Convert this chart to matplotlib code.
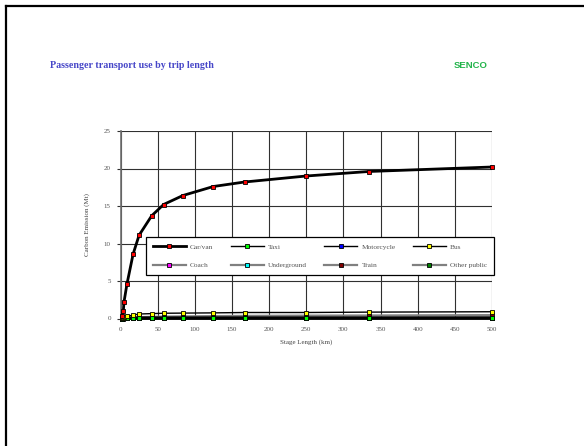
import matplotlib
matplotlib.use("Agg")
import matplotlib.pyplot as plt
from matplotlib.lines import Line2D

# ---- data ----
stage_km = [1.5, 3.8, 4.7, 8.7, 17, 25, 42, 58, 84, 125, 167, 250, 334, 500]
car_van = [0.3, 1.0, 2.2, 4.6, 8.6, 11.1, 13.7, 15.2, 16.4, 17.6, 18.2, 19.0, 19.6, 20.2]
taxi = [0.0, 0.01, 0.02, 0.03, 0.04, 0.05, 0.05, 0.05, 0.05, 0.05, 0.05, 0.05, 0.05, 0.05]
motorcycle = [0.0, 0.01, 0.01, 0.02, 0.03, 0.03, 0.04, 0.04, 0.04, 0.04, 0.04, 0.04, 0.04, 0.04]
bus = [0.05, 0.12, 0.2, 0.3, 0.45, 0.6, 0.65, 0.7, 0.72, 0.75, 0.8, 0.8, 0.85, 0.9]
coach = [0.0, 0.0, 0.01, 0.01, 0.02, 0.03, 0.04, 0.05, 0.06, 0.07, 0.08, 0.09, 0.1, 0.12]
underground = [0.0, 0.01, 0.02, 0.03, 0.04, 0.05, 0.05, 0.05, 0.05, 0.05, 0.05, 0.05, 0.05, 0.05]
train = [0.0, 0.02, 0.04, 0.08, 0.12, 0.18, 0.22, 0.25, 0.28, 0.32, 0.35, 0.38, 0.4, 0.45]
other_public = [0.0, 0.01, 0.02, 0.03, 0.04, 0.05, 0.06, 0.06, 0.07, 0.07, 0.08, 0.08, 0.08, 0.09]

series_names = ["Car/van", "Taxi", "Motorcycle", "Bus", "Coach", "Underground", "Train", "Other public"]
series_values = [car_van, taxi, motorcycle, bus, coach, underground, train, other_public]
marker_colors = ["#ff0000", "#00ff00", "#0000ff", "#ffff00", "#ff00ff", "#00ffff", "#800000", "#008000"]
line_colors = ["#000000", "#000000", "#000000", "#000000", "#808080", "#808080", "#808080", "#808080"]
line_widths = [2.0, 1.0, 1.0, 1.0, 1.6, 1.6, 1.6, 1.6]
plot_widths = [2.0, 2.2, 2.2, 1.0, 1.6, 1.6, 1.6, 1.6]

x_ticks = [0, 50, 100, 150, 200, 250, 300, 350, 400, 450, 500]
y_ticks = [0, 5, 10, 15, 20, 25]

W, H = 584, 446
fig = plt.figure(figsize=(W / 100, H / 100), dpi=100)
fig.patch.set_facecolor("white")

# slide frame (left and top border)
fig.add_artist(Line2D([5.5 / W, 5.5 / W], [0, 1 - 5.5 / H], transform=fig.transFigure,
                      color="black", lw=1.6))
fig.add_artist(Line2D([5.5 / W, 1], [1 - 5.5 / H, 1 - 5.5 / H], transform=fig.transFigure,
                      color="black", lw=1.6))

fig.text(50 / W, 1 - 66 / H, "Passenger transport use by trip length", color="#4646c8",
         fontsize=7.2, fontweight="bold", family="Liberation Serif", va="center", ha="left")
fig.text(471 / W, 1 - 65 / H, "SENCO", color="#22b44a", fontsize=6.8, fontweight="bold",
         family="Liberation Sans", va="center", ha="center")

left, right = 120.5, 492
bottom, top = 318.5, 131
ax = fig.add_axes([left / W, 1 - bottom / H, (right - left) / W, (bottom - top) / H])

ax.set_xlim(0, 500)
ax.set_ylim(0, 25)
ax.set_xticks(x_ticks)
ax.set_yticks(y_ticks)
ax.grid(True, color="#303030", lw=0.8)
ax.set_axisbelow(True)
for s in ["top", "right", "bottom"]:
    ax.spines[s].set_visible(False)
ax.spines["left"].set_color("#707070")
ax.spines["left"].set_linewidth(1.2)
ax.tick_params(axis="y", direction="out", length=3, width=0.8, color="#303030",
               labelsize=5, labelcolor="#555555", pad=4)
ax.tick_params(axis="x", length=0, labelsize=5, labelcolor="#555555", pad=6)
for lab in ax.get_xticklabels() + ax.get_yticklabels():
    lab.set_family("Liberation Serif")

order = [7, 6, 5, 4, 2, 1, 3, 0]
for i in order:
    ax.plot(stage_km, series_values[i], color=line_colors[i], lw=plot_widths[i],
            marker="s", markersize=3.5, markerfacecolor=marker_colors[i],
            markeredgecolor="black", markeredgewidth=0.6, label=series_names[i],
            clip_on=False, zorder=3 + (i == 0))

ax.set_xlabel("Stage Length (km)", fontsize=5, color="#444444", family="Liberation Serif",
              labelpad=5)
ax.set_ylabel("Carbon Emission (Mt)", fontsize=5, color="#444444", family="Liberation Serif",
              labelpad=10)

handles = []
for i in range(8):
    handles.append(Line2D([], [], color=line_colors[i], lw=line_widths[i], marker="s",
                          markersize=3.5, markerfacecolor=marker_colors[i],
                          markeredgecolor="black", markeredgewidth=0.6))
# matplotlib fills legend columns first; reorder so rows read left-to-right
leg_order = [0, 4, 1, 5, 2, 6, 3, 7]
x0 = (146 - left) / (right - left)
x1 = (494 - left) / (right - left)
y0 = (bottom - 276) / (bottom - top)
y1 = (bottom - 237) / (bottom - top)
leg = ax.legend([handles[k] for k in leg_order], [series_names[k] for k in leg_order],
                ncol=4, loc="upper left",
                bbox_to_anchor=(x0, y0, x1 - x0, y1 - y0), mode="expand",
                prop={"family": "Liberation Serif", "size": 5.3}, labelcolor="#555555",
                frameon=True, fancybox=False, edgecolor="black", framealpha=1,
                handlelength=4.5, handletextpad=0.6, borderpad=0.9, labelspacing=1.7,
                borderaxespad=0)
leg.get_frame().set_linewidth(0.9)
leg.set_zorder(10)

fig.savefig("out.png", dpi=100)
